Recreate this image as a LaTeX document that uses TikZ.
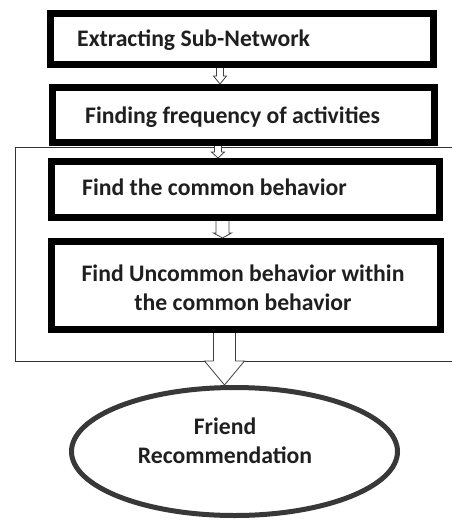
\documentclass[tikz,border=0pt]{standalone}
\usepackage{fontspec}
\setmainfont{Carlito}
\usetikzlibrary{calc,shapes.geometric}

\newcommand{\hollowarrow}[6]{%
  \draw[arrowline] let \p1=(#2), \p2=(#3) in
    (#1pt-#4pt,\y1) -- (#1pt-#4pt,\y2+#6pt) -- (#1pt-#5pt,\y2+#6pt) -- (#1pt,\y2)
    -- (#1pt+#5pt,\y2+#6pt) -- (#1pt+#4pt,\y2+#6pt) -- (#1pt+#4pt,\y1);}

\tikzset{
  stepbox/.style={draw=black, line width=7pt, fill=white, inner sep=0pt},
  lbl/.style={font=\fontsize{23.7}{29}\selectfont\bfseries, text=black!88, inner sep=0pt},
  arrowline/.style={draw=black!75, line width=0.8pt, fill=white},
}

\begin{document}
\begin{tikzpicture}[x=1pt,y=-1pt]
\useasboundingbox (0,0) rectangle (452,520);

\draw[line width=1pt, black!80] (15,147) rectangle (470,361);

\node[stepbox, minimum width=383, minimum height=51] (b1) at (242,39) {};
\node[stepbox, minimum width=382, minimum height=55] (b2) at (243.5,115) {};
\node[stepbox, minimum width=388, minimum height=56] (b3) at (245.5,189.5) {};
\node[stepbox, minimum width=389, minimum height=88] (b4) at (246,285.5) {};
\node[ellipse, draw=black!78, line width=5pt, fill=white, inner sep=0pt,
  minimum width=326, minimum height=128] (rec) at (234.5,451.5) {};

\hollowarrow{220}{b1.south}{b2.north}{3.5}{6.5}{8}
\hollowarrow{218}{b2.south}{b3.north}{3.5}{6.5}{6}
\hollowarrow{222.5}{b3.south}{b4.north}{6.5}{9}{5}
\hollowarrow{224.5}{b4.south}{rec.north}{11}{20}{24}

\node[lbl, anchor=west] (t1) at (77,40) {Extracting Sub-Network};
\node[lbl, anchor=west] (t2) at (85,117) {Finding frequency of activities};
\node[lbl, anchor=west] (t3) at (82,187) {Find the common behavior};
\node[lbl, align=center] (t4) at (243,287.5) {Find Uncommon behavior within\\the common behavior};
\node[lbl, align=center] (t5) at (225,441) {Friend\\Recommendation};

\end{tikzpicture}
\end{document}
